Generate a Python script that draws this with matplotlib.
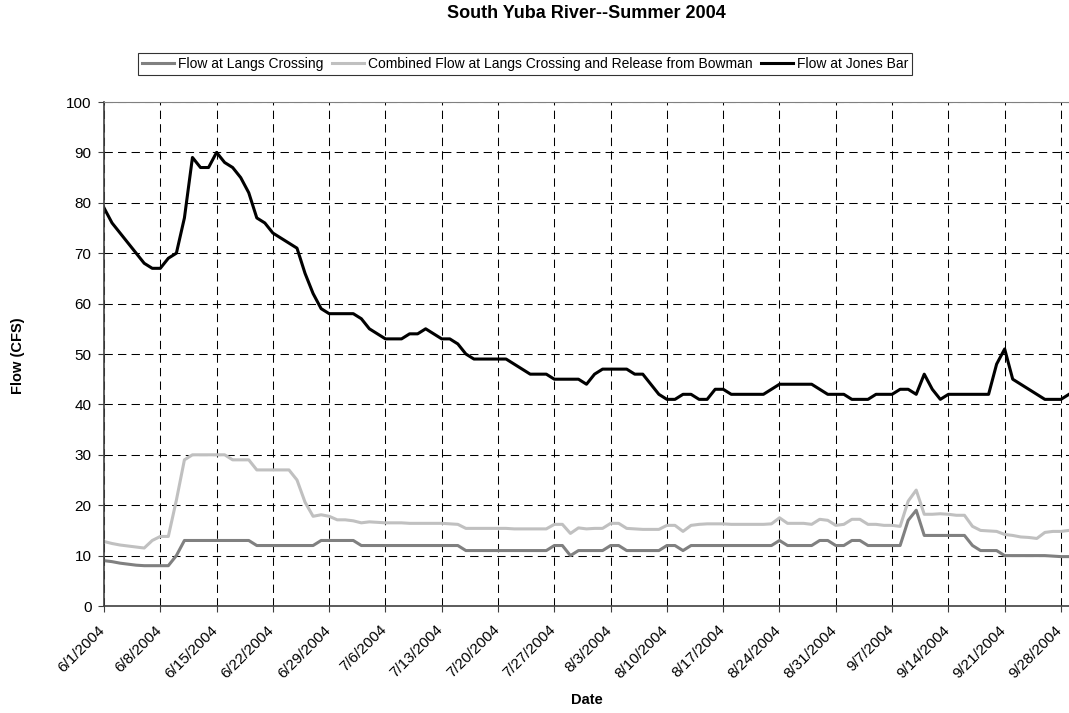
import pandas as pd
import matplotlib
matplotlib.use("Agg")
import matplotlib.pyplot as plt
from matplotlib.transforms import ScaledTranslation

plt.rcParams['font.family'] = ['Liberation Sans', 'DejaVu Sans']

# daily flows, 6/1/2004 through 9/29/2004
fechas = pd.date_range('2004-06-01', periods=121, freq='D')

langs = [9, 8.8, 8.5, 8.3, 8.1, 8, 8, 8, 8, 10,
         13, 13, 13, 13, 13, 13, 13, 13, 13, 12,
         12, 12, 12, 12, 12, 12, 12, 13, 13, 13,
         13, 13, 12, 12, 12, 12, 12, 12, 12, 12,
         12, 12, 12, 12, 12, 11, 11, 11, 11, 11,
         11, 11, 11, 11, 11, 11, 12, 12, 10, 11,
         11, 11, 11, 12, 12, 11, 11, 11, 11, 11,
         12, 12, 11, 12, 12, 12, 12, 12, 12, 12,
         12, 12, 12, 12, 13, 12, 12, 12, 12, 13,
         13, 12, 12, 13, 13, 12, 12, 12, 12, 12,
         17, 19, 14, 14, 14, 14, 14, 14, 12, 11,
         11, 11, 10, 10, 10, 10, 10, 10, 9.9, 9.8,
         9.8]

combinado = [12.8, 12.4, 12.1, 11.9, 11.7, 11.5, 13.0, 13.8, 13.8, 21,
             29, 30, 30, 30, 30, 30, 29, 29, 29, 27,
             27, 27, 27, 27, 25, 20.6, 17.8, 18.1, 17.8, 17.1,
             17.1, 16.9, 16.5, 16.7, 16.6, 16.5, 16.5, 16.5, 16.4, 16.4,
             16.4, 16.4, 16.4, 16.3, 16.2, 15.4, 15.4, 15.4, 15.4, 15.4,
             15.4, 15.3, 15.3, 15.3, 15.3, 15.3, 16.2, 16.2, 14.4, 15.5,
             15.3, 15.4, 15.4, 16.4, 16.4, 15.4, 15.3, 15.2, 15.2, 15.2,
             16.0, 16.0, 14.8, 16.0, 16.2, 16.3, 16.3, 16.3, 16.2, 16.2,
             16.2, 16.2, 16.2, 16.3, 17.5, 16.4, 16.4, 16.4, 16.2, 17.2,
             17.0, 16.0, 16.2, 17.2, 17.2, 16.2, 16.2, 16.0, 16.0, 15.8,
             20.8, 23, 18.2, 18.2, 18.3, 18.2, 18.0, 18.0, 15.8, 15.0,
             14.9, 14.8, 14.2, 14.0, 13.7, 13.6, 13.4, 14.6, 14.8, 14.8,
             15.0]

jones = [79, 76, 74, 72, 70, 68, 67, 67, 69, 70,
         77, 89, 87, 87, 90, 88, 87, 85, 82, 77,
         76, 74, 73, 72, 71, 66, 62, 59, 58, 58,
         58, 58, 57, 55, 54, 53, 53, 53, 54, 54,
         55, 54, 53, 53, 52, 50, 49, 49, 49, 49,
         49, 48, 47, 46, 46, 46, 45, 45, 45, 45,
         44, 46, 47, 47, 47, 47, 46, 46, 44, 42,
         41, 41, 42, 42, 41, 41, 43, 43, 42, 42,
         42, 42, 42, 43, 44, 44, 44, 44, 44, 43,
         42, 42, 42, 41, 41, 41, 42, 42, 42, 43,
         43, 42, 46, 43, 41, 42, 42, 42, 42, 42,
         42, 48, 51, 45, 44, 43, 42, 41, 41, 41,
         42]

semanas = pd.date_range('2004-06-01', '2004-09-28', freq='7D')
etiquetas = [f"{d.month}/{d.day}/{d.year}" for d in semanas]

fig = plt.figure(figsize=(10.69, 7.13), dpi=100)
ax = fig.add_axes([104 / 1069, 1 - 606 / 713, 1 - 104 / 1069, 504 / 713])

ax.plot(fechas, langs, color='#808080', lw=2.2, label='Flow at Langs Crossing')
ax.plot(fechas, combinado, color='#c0c0c0', lw=2.2,
        label='Combined Flow at Langs Crossing and Release from Bowman')
ax.plot(fechas, jones, color='black', lw=2.2, label='Flow at Jones Bar')

ax.set_xlim(fechas[0], fechas[-1])
ax.set_ylim(0, 100)
ax.set_yticks(range(0, 101, 10))
ax.set_xticks(semanas)
ax.set_xticklabels(etiquetas, rotation=45, ha='right', rotation_mode='anchor')
ax.tick_params(labelsize=11, length=4, color='#404040')
ax.tick_params(axis='x', pad=8)
ax.tick_params(axis='y', pad=5)

# corre las fechas un poco a la izquierda
desplazo = ScaledTranslation(-6 / 100, 0, fig.dpi_scale_trans)
for etiqueta in ax.get_xticklabels():
    etiqueta.set_transform(etiqueta.get_transform() + desplazo)

# lineas de division punteadas
ax.grid(True, color='black', lw=0.75, linestyle=(0, (8, 5)))
ax.set_axisbelow(True)

ax.spines['right'].set_visible(False)
ax.spines['top'].set_color('#808080')
for lado in ['left', 'bottom']:
    ax.spines[lado].set_color('#404040')
    ax.spines[lado].set_linewidth(1.2)

ax.set_xlabel('Date', fontsize=10.5, fontweight='bold', va='center')
ax.set_ylabel('Flow (CFS)', fontsize=10.5, fontweight='bold', va='center')
ax.xaxis.set_label_coords((587 - 104) / 965, -(700 - 606) / 504)
ax.yaxis.set_label_coords(-(104 - 18) / 965, (606 - 356) / 504)

fig.text(586 / 1069, 1 - 14 / 713, 'South Yuba River--Summer 2004',
         ha='center', va='center', fontsize=13, fontweight='bold')

leg = fig.legend(loc='center', bbox_to_anchor=(525 / 1069, 1 - 64 / 713), ncol=3,
                 fontsize=10, frameon=True, fancybox=False, edgecolor='black',
                 handlelength=2.3, handletextpad=0.3, columnspacing=0.6,
                 borderpad=0.3)
leg.get_frame().set_linewidth(0.8)

plt.savefig('out.png', dpi=100)
